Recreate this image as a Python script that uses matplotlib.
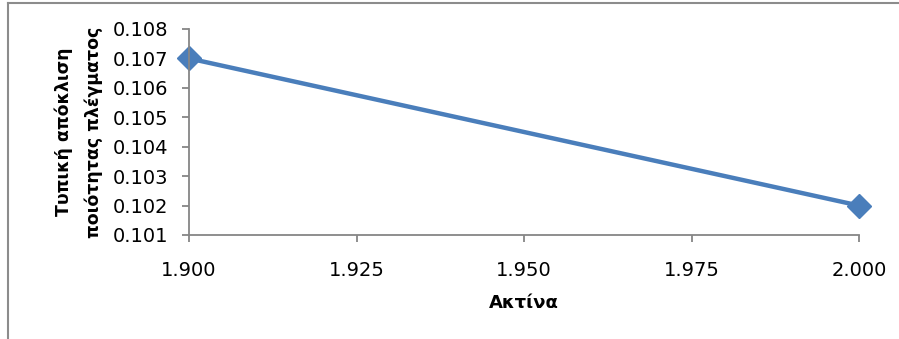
import matplotlib.pyplot as plt
from matplotlib.lines import Line2D

radius = [1.900, 2.000]
std_quality = [0.107, 0.102]
x_ticks = [1.900, 1.925, 1.950, 1.975, 2.000]
y_ticks = [0.101, 0.102, 0.103, 0.104, 0.105, 0.106, 0.107, 0.108]

plt.rcParams['font.family'] = ['DejaVu Sans']

fig = plt.figure(figsize=(8.99, 3.39), dpi=100)
ax = fig.add_axes([189/899, 1 - 235/339, (859 - 189)/899, (235 - 29)/339])

ax.plot(radius, std_quality, color='#4A7EBB', linewidth=3.2,
        marker='D', markersize=12, clip_on=False)

ax.set_xlim(1.900, 2.000)
ax.set_ylim(0.101, 0.108)
ax.set_xticks(x_ticks)
ax.set_xticklabels(["%.3f" % v for v in x_ticks])
ax.set_yticks(y_ticks)
ax.set_yticklabels(["%.3f" % v for v in y_ticks])

for s in ['top', 'right']:
    ax.spines[s].set_visible(False)
for s in ['left', 'bottom']:
    ax.spines[s].set_color('#868686')
    ax.spines[s].set_linewidth(1.3)
ax.tick_params(axis='both', colors='#868686', labelcolor='black',
               length=5, width=1.3, labelsize=14)
ax.tick_params(axis='y', pad=10)
ax.tick_params(axis='x', pad=14)

ax.set_xlabel("Ακτίνα", fontsize=13, fontweight='bold', labelpad=10)
ax.set_ylabel("Τυπική απόκλιση\nποιότητας πλέγματος", fontsize=12.5,
              fontweight='bold', labelpad=7, linespacing=1.8)

# chart frame (only the top and left edges are in view)
fig.add_artist(Line2D([8/899, 8/899], [0, 1 - 3/339], transform=fig.transFigure,
                      color='#8c8c8c', linewidth=1.5))
fig.add_artist(Line2D([8/899, 1], [1 - 3/339, 1 - 3/339], transform=fig.transFigure,
                      color='#8c8c8c', linewidth=1.5))

fig.savefig("out.png", dpi=100)
